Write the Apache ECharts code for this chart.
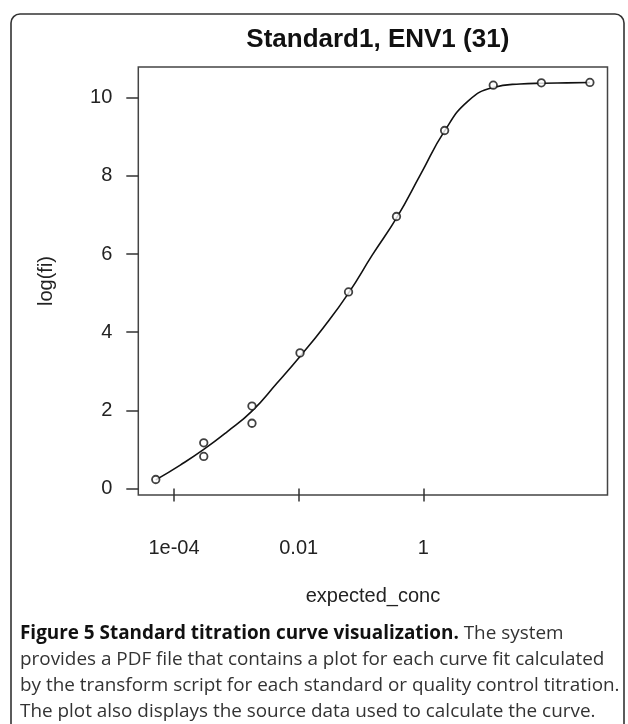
<!DOCTYPE html>
<html>
<head>
<meta charset="utf-8">
<script src="https://cdn.jsdelivr.net/npm/echarts@6/dist/echarts.min.js"></script>
<style>
html,body{margin:0;padding:0;background:#fff;}
#chart{width:628px;height:724px;}
</style>
</head>
<body>
<div id="chart"></div>
<script>
// Observed data points (expected_conc, log(fi))
const pointConc = [5.1e-5, 3.0e-4, 3.0e-4, 1.78e-3, 1.78e-3, 0.0105, 0.063, 0.37, 2.19, 13.2, 78, 468];
const pointLogFi = [0.23, 1.17, 0.82, 2.11, 1.67, 3.47, 5.03, 6.96, 9.16, 10.32, 10.38, 10.39];

// Fitted curve
const curveConc = [5.1e-5, 1.26e-4, 3.0e-4, 7.1e-4, 1.78e-3, 4.5e-3, 0.0105, 0.025, 0.063, 0.151, 0.38, 0.91, 2.19, 5.25, 13.2, 35.5, 85, 200, 468];
const curveLogFi = [0.22, 0.60, 1.00, 1.45, 1.98, 2.70, 3.38, 4.12, 5.00, 5.97, 6.95, 8.05, 9.15, 9.92, 10.26, 10.35, 10.37, 10.38, 10.39];

// Axis ticks
const xTicks = [1e-4, 0.01, 1];
const xTickLabels = ['1e-04', '0.01', '1'];
const yTicks = [0, 2, 4, 6, 8, 10];

const titleText = 'Standard1, ENV1 (31)';
const xName = 'expected_conc';
const yName = 'log(fi)';

const chart = echarts.init(document.getElementById('chart'), null, {renderer: 'canvas'});

const pts = pointConc.map((c, i) => [c, pointLogFi[i]]);
const curve = curveConc.map((c, i) => [c, curveLogFi[i]]);

const FONT = 'Liberation Sans, Arial, sans-serif';

const option = {
  backgroundColor: '#fff',
  animation: false,
  grid: {
    left: 138.3, top: 67, right: 20.5, bottom: 229,
    show: true, borderColor: '#444', borderWidth: 1.5, backgroundColor: 'transparent'
  },
  xAxis: {
    type: 'log', logBase: 10,
    min: 2.675e-5, max: 897,
    name: xName, nameLocation: 'middle', nameGap: 91,
    nameTextStyle: {fontFamily: FONT, fontSize: 20, color: '#222'},
    axisLine: {show: false},
    splitLine: {show: false},
    minorTick: {show: false},
    axisTick: {show: true, inside: false, length: 13, lineStyle: {color: '#333', width: 1.5}, customValues: xTicks},
    axisLabel: {
      show: true, margin: 43, fontFamily: FONT, fontSize: 20, color: '#222',
      customValues: xTicks,
      formatter: function (v) {
        const idx = xTicks.findIndex(t => Math.abs(Math.log10(t) - Math.log10(v)) < 1e-6);
        return idx >= 0 ? xTickLabels[idx] : '';
      }
    }
  },
  yAxis: {
    type: 'value',
    min: -0.166, max: 10.785,
    name: yName, nameLocation: 'middle', nameGap: 82,
    nameTextStyle: {fontFamily: FONT, fontSize: 20, color: '#222'},
    axisLine: {show: false},
    splitLine: {show: false},
    axisTick: {show: true, inside: false, length: 12, lineStyle: {color: '#333', width: 1.5}, customValues: yTicks},
    axisLabel: {show: true, margin: 26, fontFamily: FONT, fontSize: 20, color: '#222', customValues: yTicks}
  },
  title: {
    text: titleText,
    left: 372.8, top: 22, textAlign: 'center',
    textStyle: {fontFamily: FONT, fontSize: 26, fontWeight: 'bold', color: '#111'}
  },
  series: [
    {
      type: 'line', data: curve, smooth: 0.5,
      showSymbol: false, symbol: 'none',
      lineStyle: {color: '#111', width: 1.6}, silent: true, z: 2
    },
    {
      type: 'scatter', data: pts, symbol: 'circle', symbolSize: 7.5,
      itemStyle: {color: '#fff', borderColor: '#111', borderWidth: 1.8}, z: 3
    }
  ],
  graphic: [
    {
      type: 'rect', silent: true, z: 0,
      shape: {x: 11, y: 14, width: 613, height: 760, r: 9},
      style: {fill: 'none', stroke: '#333', lineWidth: 1.6}
    },
    {
      type: 'text', left: 20, top: 620, silent: true,
      style: {
        text: '{b|Figure 5 Standard titration curve visualization.} The system\nprovides a PDF file that contains a plot for each curve fit calculated\nby the transform script for each standard or quality control titration.\nThe plot also displays the source data used to calculate the curve.',
        font: '18.9px "Open Sans", sans-serif',
        fill: '#333',
        lineHeight: 26.3,
        rich: {
          b: {fontWeight: 'bold', fontFamily: 'Open Sans', fontSize: 18.9, fill: '#111', lineHeight: 26.3}
        }
      }
    }
  ]
};
chart.setOption(option);
</script>
</body>
</html>
